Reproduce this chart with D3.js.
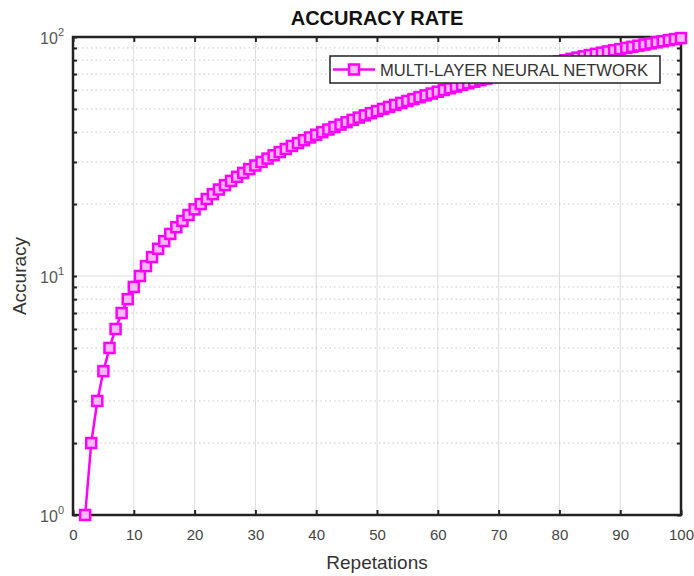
<!DOCTYPE html>
<html>
<head>
<meta charset="utf-8">
<script src="https://cdn.jsdelivr.net/npm/d3@7"></script>
<style>
  body { margin: 0; background: #fff; }
  text { font-family: "Liberation Sans", Arial, sans-serif; }
</style>
</head>
<body>
<div id="chart"></div>
<script>
// repetitions (x) and accuracy (y)
const repetitions = [
  2, 3, 4, 5, 6, 7, 8, 9, 10, 11, 12, 13, 14, 15, 16, 17, 18, 19, 20,
  21, 22, 23, 24, 25, 26, 27, 28, 29, 30, 31, 32, 33, 34, 35, 36, 37, 38, 39, 40,
  41, 42, 43, 44, 45, 46, 47, 48, 49, 50, 51, 52, 53, 54, 55, 56, 57, 58, 59, 60,
  61, 62, 63, 64, 65, 66, 67, 68, 69, 70, 71, 72, 73, 74, 75, 76, 77, 78, 79, 80,
  81, 82, 83, 84, 85, 86, 87, 88, 89, 90, 91, 92, 93, 94, 95, 96, 97, 98, 99, 100
];
const accuracy = [
  1, 2, 3, 4, 5, 6, 7, 8, 9, 10, 11, 12, 13, 14, 15, 16, 17, 18, 19,
  20, 21, 22, 23, 24, 25, 26, 27, 28, 29, 30, 31, 32, 33, 34, 35, 36, 37, 38, 39,
  40, 41, 42, 43, 44, 45, 46, 47, 48, 49, 50, 51, 52, 53, 54, 55, 56, 57, 58, 59,
  60, 61, 62, 63, 64, 65, 66, 67, 68, 69, 70, 71, 72, 73, 74, 75, 76, 77, 78, 79,
  80, 81, 82, 83, 84, 85, 86, 87, 88, 89, 90, 91, 92, 93, 94, 95, 96, 97, 98, 99
];
const xTicks = [0, 10, 20, 30, 40, 50, 60, 70, 80, 90, 100];
const yMajor = [1, 10, 100];
const yMinor = [2, 3, 4, 5, 6, 7, 8, 9, 20, 30, 40, 50, 60, 70, 80, 90];
const seriesName = 'MULTI-LAYER NEURAL NETWORK';

const width = 694, height = 576;
const margin = { top: 37, right: 13, bottom: 61, left: 73 };
const color = '#ff00ff';

const svg = d3.select('#chart').append('svg')
  .attr('width', width).attr('height', height);

const x = d3.scaleLinear().domain([0, 100])
  .range([margin.left, width - margin.right]);
const y = d3.scaleLog().domain([1, 100])
  .range([height - margin.bottom, margin.top]);

const data = repetitions.map((r, i) => ({ x: r, y: accuracy[i] }));

// grid
const grid = svg.append('g');
grid.selectAll('line.vx').data(xTicks.slice(1, -1)).join('line')
  .attr('x1', d => x(d)).attr('x2', d => x(d))
  .attr('y1', y(1)).attr('y2', y(100))
  .attr('stroke', '#dcdcdc').attr('stroke-width', 1);
grid.selectAll('line.minor').data(yMinor).join('line')
  .attr('x1', x(0)).attr('x2', x(100))
  .attr('y1', d => y(d)).attr('y2', d => y(d))
  .attr('stroke', '#c8c8c8').attr('stroke-width', 1)
  .attr('stroke-dasharray', '1.5,3');
grid.append('line')
  .attr('x1', x(0)).attr('x2', x(100))
  .attr('y1', y(10)).attr('y2', y(10))
  .attr('stroke', '#dcdcdc').attr('stroke-width', 1);

// axes
const xAxis = d3.axisBottom(x).tickValues(xTicks).tickSize(-5).tickPadding(14);
svg.append('g')
  .attr('transform', `translate(0,${y(1)})`)
  .call(xAxis)
  .call(g => g.select('.domain').remove())
  .call(g => g.selectAll('.tick line').attr('stroke', '#222').attr('stroke-width', 2))
  .call(g => g.selectAll('.tick text').attr('fill', '#444').attr('font-size', 15)
    .attr('font-family', '"Liberation Sans", Arial, sans-serif'));

svg.append('g')
  .attr('transform', `translate(0,${y(100)})`)
  .call(d3.axisTop(x).tickValues(xTicks).tickSize(-5).tickFormat(''))
  .call(g => g.select('.domain').remove())
  .call(g => g.selectAll('.tick line').attr('stroke', '#222').attr('stroke-width', 2));

const yTicksAll = yMajor.concat(yMinor);
svg.append('g')
  .attr('transform', `translate(${x(0)},0)`)
  .call(d3.axisLeft(y).tickValues(yTicksAll).tickSize(-4).tickFormat(''))
  .call(g => g.select('.domain').remove())
  .call(g => g.selectAll('.tick line').attr('stroke', '#222').attr('stroke-width', 2));
svg.append('g')
  .attr('transform', `translate(${x(100)},0)`)
  .call(d3.axisRight(y).tickValues(yTicksAll).tickSize(-4).tickFormat(''))
  .call(g => g.select('.domain').remove())
  .call(g => g.selectAll('.tick line').attr('stroke', '#222').attr('stroke-width', 2));

// y major labels as 10^n
const yLab = svg.append('g').selectAll('text').data(yMajor).join('text')
  .attr('x', x(0) - 9).attr('y', d => y(d) + 7)
  .attr('text-anchor', 'end').attr('fill', '#555').attr('font-size', 16);
yLab.append('tspan').text('10');
yLab.append('tspan').attr('dy', -8).attr('font-size', 11)
  .text(d => Math.round(Math.log10(d)));

// frame
svg.append('rect')
  .attr('x', x(0)).attr('y', y(100))
  .attr('width', x(100) - x(0)).attr('height', y(1) - y(100))
  .attr('fill', 'none').attr('stroke', '#222').attr('stroke-width', 2.5);

// series
const line = d3.line().x(d => x(d.x)).y(d => y(d.y));
svg.append('path').datum(data)
  .attr('d', line).attr('fill', 'none')
  .attr('stroke', color).attr('stroke-width', 2.5);

const ms = 10;
svg.append('g').selectAll('rect').data(data).join('rect')
  .attr('x', d => x(d.x) - ms / 2).attr('y', d => y(d.y) - ms / 2)
  .attr('width', ms).attr('height', ms)
  .attr('fill', '#ffb8ff').attr('stroke', color).attr('stroke-width', 2.5);

// legend
const lg = svg.append('g').attr('transform', 'translate(330,56)');
lg.append('rect').attr('width', 330).attr('height', 27)
  .attr('fill', '#fff').attr('stroke', '#222').attr('stroke-width', 1.5);
lg.append('line').attr('x1', 3).attr('x2', 45).attr('y1', 13.5).attr('y2', 13.5)
  .attr('stroke', color).attr('stroke-width', 2.5);
lg.append('rect').attr('x', 24 - ms / 2).attr('y', 13.5 - ms / 2)
  .attr('width', ms).attr('height', ms)
  .attr('fill', '#ffb8ff').attr('stroke', color).attr('stroke-width', 2.5);
lg.append('text').attr('x', 50).attr('y', 19.5)
  .attr('font-size', 16.5).attr('fill', '#333')
  .attr('textLength', 268).attr('lengthAdjust', 'spacingAndGlyphs')
  .text(seriesName);

// titles
svg.append('text').attr('x', (x(0) + x(100)) / 2).attr('y', 25)
  .attr('text-anchor', 'middle').attr('font-weight', 'bold')
  .attr('font-size', 20).attr('fill', '#111').text('ACCURACY RATE');
svg.append('text').attr('x', (x(0) + x(100)) / 2).attr('y', 569)
  .attr('text-anchor', 'middle').attr('font-size', 19).attr('fill', '#333')
  .text('Repetations');
svg.append('text')
  .attr('transform', `translate(26,${(y(1) + y(100)) / 2}) rotate(-90)`)
  .attr('text-anchor', 'middle').attr('font-size', 19).attr('fill', '#333')
  .text('Accuracy');
</script>
</body>
</html>
